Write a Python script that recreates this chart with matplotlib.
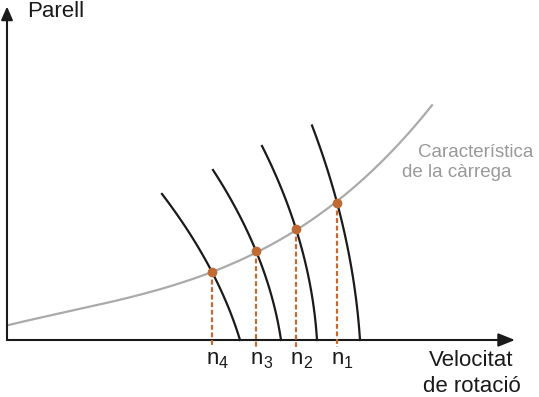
import numpy as np
import matplotlib.pyplot as plt

plt.rcParams['font.family'] = ['Liberation Sans', 'DejaVu Sans']

# load characteristic (speed, torque)
load_speed = [0, 26, 60, 93, 126, 160, 205, 249, 289, 330, 356, 390, 410, 425]
load_torque = [16, 20.5, 26.5, 34.3, 43.3, 54.3, 68, 89, 111, 137.5, 160, 192, 215, 238]

# motor curves: top point, working point, zero torque point
motor_speed = {
    '4': [155, 205, 233],
    '3': [206, 249, 274],
    '2': [255, 289, 310],
    '1': [305, 330, 353],
}
motor_torque = {
    '4': [146, 68, 0],
    '3': [170, 89, 0],
    '2': [194, 111, 0],
    '1': [214.5, 137.5, 0],
}

black = '#1a1a1a'
grey = '#aaaaaa'
orange = '#c06a35'

fig = plt.figure(figsize=(5.39, 3.97), dpi=100)
ax = fig.add_axes([0, 0, 1, 1])
ax.set_xlim(-7, 532)
ax.set_ylim(-57, 340)
ax.axis('off')

# axes with arrows
ax.annotate('', xy=(508, 0), xytext=(0, 0),
            arrowprops=dict(arrowstyle='-|>,head_length=1.0,head_width=0.4',
                            mutation_scale=10, lw=1.5, color=black,
                            shrinkA=0, shrinkB=0))
ax.annotate('', xy=(0, 333.5), xytext=(0, 0),
            arrowprops=dict(arrowstyle='-|>,head_length=0.8,head_width=0.35',
                            mutation_scale=10, lw=1.5, color=black,
                            shrinkA=0, shrinkB=0))

# load curve
c = np.polyfit(load_speed, load_torque, 3)
xs = np.linspace(load_speed[0], load_speed[-1], 200)
ax.plot(xs, np.polyval(c, xs), color=grey, lw=1.6, zorder=2)

# motor curves
for k in motor_speed:
    p = np.polyfit(motor_torque[k], motor_speed[k], 2)
    ys = np.linspace(motor_torque[k][0], motor_torque[k][-1], 100)
    ax.plot(np.polyval(p, ys), ys, color=black, lw=1.6, zorder=3)

    x0, y0 = motor_speed[k][1], motor_torque[k][1]
    ax.plot([x0, x0], [y0, -7], color=orange, lw=1.6, ls=(0, (2.2, 1.2)), zorder=4)
    ax.plot(x0, y0, 'o', color=orange, ms=6, zorder=5)
    ax.text(x0 + 0.5, -23.5, 'n', fontsize=16, ha='center', va='baseline', color=black)
    ax.text(x0 + 7, -28.5, k, fontsize=11.5, ha='left', va='baseline', color=black)

ax.text(20, 322.7, 'Parell', fontsize=16, ha='left', va='baseline', color=black)
ax.text(464.5, -26, 'Velocitat', fontsize=16, ha='center', va='baseline', color=black)
ax.text(464.5, -52, 'de rotació', fontsize=16, ha='center', va='baseline', color=black)
ax.text(411, 183.3, 'Característica', fontsize=13.5, ha='left', va='baseline', color='#999999')
ax.text(395.5, 162.7, 'de la càrrega', fontsize=13.5, ha='left', va='baseline', color='#999999')

fig.savefig('out.png', dpi=100)
